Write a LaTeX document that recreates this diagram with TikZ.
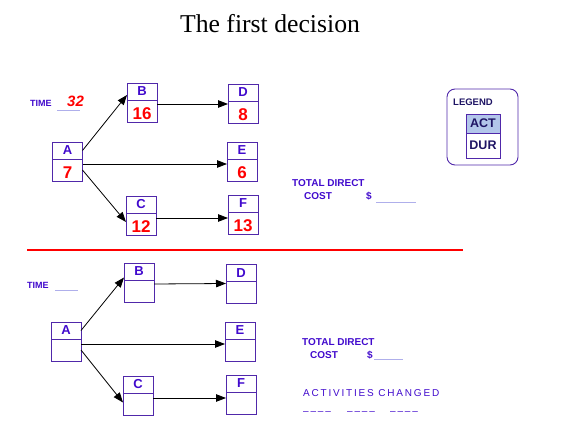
\documentclass[tikz,border=0pt]{standalone}
\usepackage{fontspec}
\setmainfont{Liberation Sans}
\newfontfamily\titlefont{Liberation Serif}
\usetikzlibrary{arrows.meta,positioning}
\definecolor{netblue}{RGB}{65,10,205}
\definecolor{netframe}{RGB}{80,40,170}
\definecolor{netred}{RGB}{255,0,0}
\definecolor{netblank}{RGB}{175,175,235}
\definecolor{legendfill}{RGB}{178,198,234}
\definecolor{legendtext}{RGB}{30,20,100}

\begin{document}
\begin{tikzpicture}[
    x=1pt, y=-1pt,
    actbox/.style={
        rectangle, draw=netframe, line width=0.9pt,
        outer sep=0pt, inner sep=0pt,
        minimum width=30pt, minimum height=17pt,
        text=netblue, font=\fontsize{13}{13}\selectfont\bfseries
    },
    durbox/.style={
        rectangle, draw=netframe, line width=0.9pt,
        outer sep=0pt, inner sep=0pt,
        minimum width=30pt, minimum height=22pt,
        text height=17pt, text depth=0pt,
        text=netred, font=\fontsize{17}{17}\selectfont\bfseries
    },
    arrow/.style={-{Triangle[length=10pt,width=7.5pt]}, line width=0.8pt, color=black},
    blank/.style={line width=0.8pt, color=netblank},
    divider/.style={line width=2pt, color=netred},
    bluetext/.style={anchor=base west, inner sep=0pt, text=netblue,
        font=\fontsize{10}{10}\selectfont\bfseries},
    timelabel/.style={bluetext, font=\fontsize{9}{9}\selectfont\bfseries},
    timevalue/.style={anchor=base west, inner sep=0pt, text=netred,
        font=\fontsize{15}{15}\selectfont\bfseries\itshape},
    spacedtext/.style={anchor=base west, inner sep=0pt, text=netblue,
        font=\fontsize{10}{10}\selectfont\addfontfeature{LetterSpace=18}},
    legendframe/.style={rectangle, rounded corners=8pt, draw=netframe, line width=0.9pt,
        minimum width=71pt, minimum height=76pt},
    legendcell/.style={rectangle, draw=netframe, line width=0.9pt,
        outer sep=0pt, inner sep=0pt, minimum width=34pt,
        text=legendtext, font=\fontsize{12.5}{12.5}\selectfont\bfseries}
]
\useasboundingbox (0,0) rectangle (577,435);

\node[font=\titlefont\fontsize{25.7}{26}\selectfont, anchor=base] (title) at (270,33) {The first decision};

% first network
\node[timelabel] (time1)  at (30,107) {TIME};
\node[timevalue] (time1v) at (67,107) {32};
\draw[blank] (57,110) -- (80,110);

\node[actbox] (A1) at (67.5,150.5) {A};
\node[durbox, below=0pt of A1] (A1d) {7};
\node[actbox] (B1) at (142,91.5) {B};
\node[durbox, below=0pt of B1] (B1d) {16};
\node[actbox] (C1) at (141,204.5) {C};
\node[durbox, below=0pt of C1] (C1d) {12};
\node[actbox] (D1) at (243,92.5) {D};
\node[durbox, below=0pt of D1] (D1d) {8};
\node[actbox] (E1) at (242,150.5) {E};
\node[durbox, below=0pt of E1] (E1d) {6};
\node[actbox] (F1) at (243,203.5) {F};
\node[durbox, below=0pt of F1] (F1d) {13};

\draw[arrow] (A1.east) -- ([yshift=-3.5pt]B1.west);
\draw[arrow] ([yshift=-5pt]A1d.north east) -- ([yshift=-5pt]E1d.north west);
\draw[arrow] (A1d.east) -- ([yshift=2pt]C1d.west);
\draw[arrow] ([yshift=-4pt]B1d.north east) -- ([yshift=-3pt]D1d.north west);
\draw[arrow] ([yshift=-5pt]C1d.north east) -- ([yshift=-6pt]F1d.north west);

\node[bluetext] (total1)  at (292,187) {TOTAL DIRECT};
\node[bluetext] (cost1)   at (304,200) {COST};
\node[bluetext] (dollar1) at (366,200) {\$};
\draw[blank] (376,202) -- (416,202);

% legend
\node[legendframe] (legend) at (482.5,127) {};
\node[bluetext, font=\fontsize{9.5}{9.5}\selectfont\bfseries, text=legendtext] (legendtitle) at (453,106) {LEGEND};
\node[legendcell, fill=legendfill, minimum height=19pt] (legact) at (483,123.5) {ACT};
\node[legendcell, minimum height=25pt, below=0pt of legact] (legdur) {DUR};

\draw[divider] (27,250) -- (463,250);

% second network
\node[timelabel] (time2) at (27,288) {TIME};
\draw[blank] (55,290) -- (78,290);

\node[actbox] (A2) at (66,330.5) {A};
\node[durbox, below=0pt of A2] (A2d) {};
\node[actbox] (B2) at (139,271.5) {B};
\node[durbox, below=0pt of B2] (B2d) {};
\node[actbox] (C2) at (138,384.5) {C};
\node[durbox, below=0pt of C2] (C2d) {};
\node[actbox] (D2) at (241,273) {D};
\node[durbox, below=0pt of D2] (D2d) {};
\node[actbox] (E2) at (240,330.5) {E};
\node[durbox, below=0pt of E2] (E2d) {};
\node[actbox] (F2) at (241,383.5) {F};
\node[durbox, below=0pt of F2] (F2d) {};

\draw[arrow] (A2.east) -- ([yshift=-6pt]B2.west);
\draw[arrow] ([yshift=-5pt]A2d.north east) -- ([yshift=-5pt]E2d.north west);
\draw[arrow] (A2d.east) -- ([yshift=1.5pt]C2d.west);
\draw[arrow] ([yshift=-4pt]B2d.north east) -- ([yshift=-2pt]D2d.north west);
\draw[arrow] ([yshift=-5pt]C2d.north east) -- ([yshift=-6pt]F2d.north west);

\node[bluetext] (total2)  at (302,345) {TOTAL DIRECT};
\node[bluetext] (cost2)   at (310,358) {COST};
\node[bluetext] (dollar2) at (367,358) {\$};
\draw[blank] (374,359) -- (403,359);

\node[spacedtext] (changed) at (303,396) {ACTIVITIES CHANGED};
\node[spacedtext] (chg1) at (303,414) {––––};
\node[spacedtext] (chg2) at (347,414) {––––};
\node[spacedtext] (chg3) at (390,414) {––––};
\end{tikzpicture}
\end{document}
